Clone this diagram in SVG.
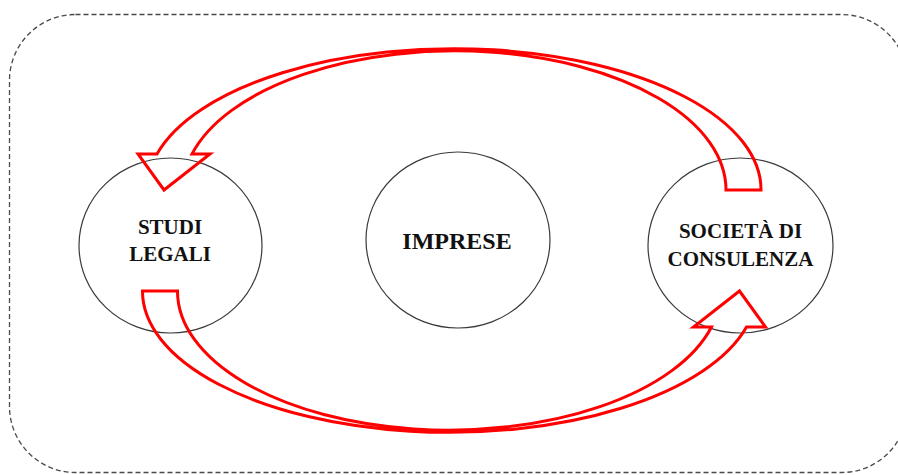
<svg xmlns="http://www.w3.org/2000/svg" width="898" height="475" viewBox="0 0 898 475">
  <style>
    .frame { fill: none; stroke: #4a4a4a; stroke-width: 1.3; stroke-dasharray: 5 3; }
    .node ellipse { fill: #ffffff; stroke: #3a3a3a; stroke-width: 1.2; }
    .label { font-family: "Liberation Serif", "DejaVu Serif", serif; font-weight: bold; fill: #111111; text-anchor: middle; }
    .arrow { fill: none; stroke: #ff0000; stroke-width: 3; stroke-linejoin: miter; }
  </style>
  <rect class="frame" x="9.5" y="14.5" width="898" height="458" rx="66" ry="66"/>

  <g id="studi-legali" class="node">
    <ellipse cx="170.5" cy="245.5" rx="91.5" ry="87.5"/>
    <text class="label" x="170" y="233.5" font-size="21">STUDI</text>
    <text class="label" x="170" y="261" font-size="21">LEGALI</text>
  </g>
  <g id="imprese" class="node">
    <ellipse cx="458" cy="240" rx="92" ry="88"/>
    <text class="label" x="457" y="249" font-size="24">IMPRESE</text>
  </g>
  <g id="societa-consulenza" class="node">
    <ellipse cx="740.5" cy="245.5" rx="92.5" ry="87.5"/>
    <text class="label" x="740.5" y="238" font-size="21">SOCIETÀ DI</text>
    <text class="label" x="740.5" y="265.5" font-size="21">CONSULENZA</text>
  </g>

  <g id="connectors">
    <path id="arrow-top" class="arrow" d="M761,190 A307,141 0 0 0 157,154 L138,154 L164,190 L210,154 L192,154 A271.6,139 0 0 1 726,190 Z"/>
    <path id="arrow-bottom" class="arrow" transform="rotate(180 451.75 240.5)" d="M761,190 A307,141 0 0 0 157,154 L138,154 L164,190 L210,154 L192,154 A271.6,139 0 0 1 726,190 Z"/>
  </g>
</svg>
